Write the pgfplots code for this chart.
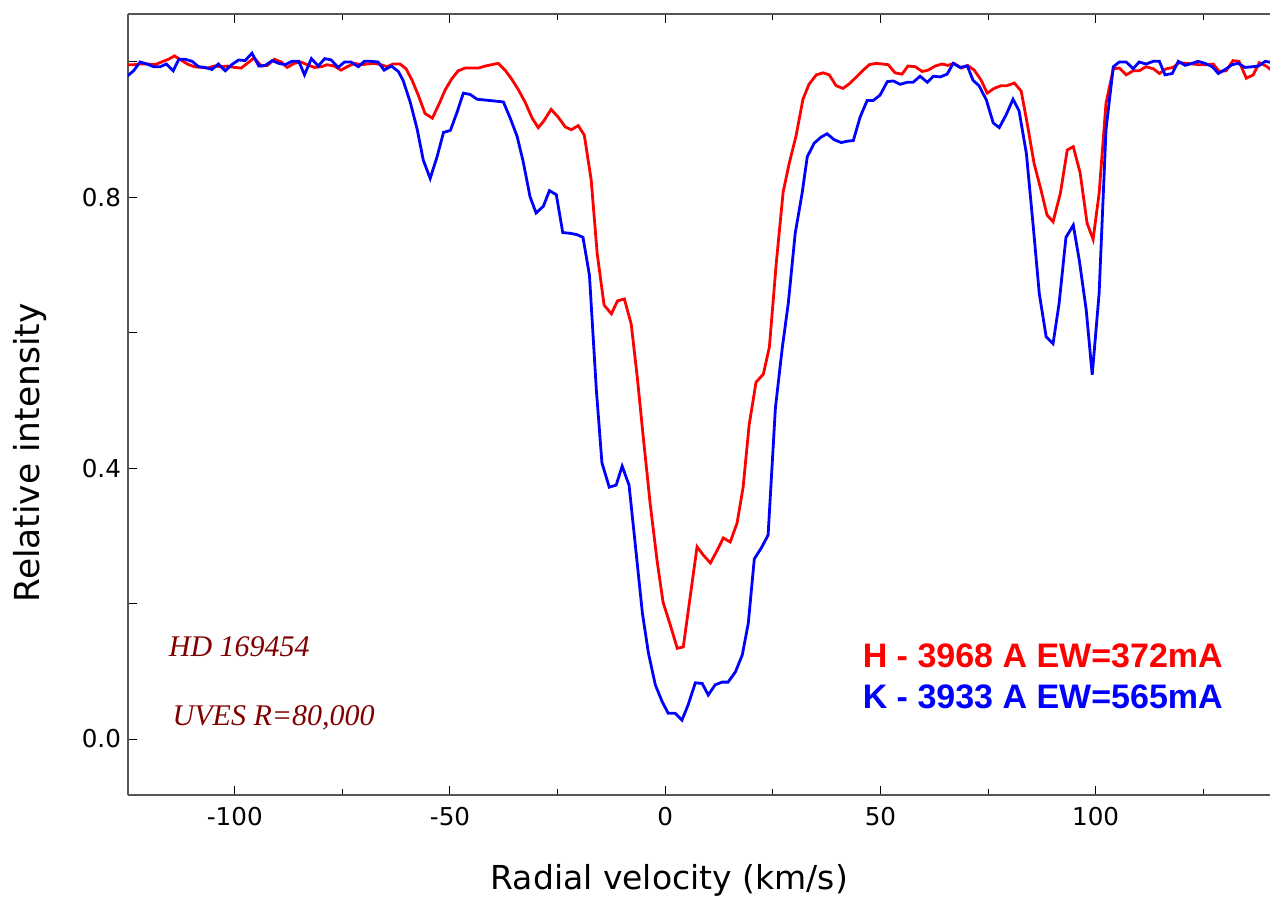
\documentclass[border=0pt]{standalone}
\usepackage{pgfplots}
\pgfplotsset{compat=1.18}
\usepackage{fontspec}
\setmainfont{DejaVu Sans}
\newfontfamily\legfont{Liberation Sans}
\newfontfamily\annfont{Liberation Serif}
\definecolor{annred}{RGB}{128,0,0}
\definecolor{axgray}{RGB}{85,85,85}

\begin{document}
\begin{tikzpicture}
\path[use as bounding box] (-64pt,-52.5pt) rectangle (571pt,397.5pt);
\begin{axis}[
  at={(0,0)}, anchor=south west,
  scale only axis,
  width=571pt, height=390.5pt,
  xmin=-124.8, xmax=140.5,
  ymin=-0.0827, ymax=1.0709,
  axis x line*=box,
  axis y line*=left,
  axis line style={draw=axgray, line width=1pt},
  tick align=inside,
  major tick length=4.5pt,
  minor tick length=3pt,
  tick style={black, line width=0.5pt},
  xtick={-100,-50,0,50,100},
  xticklabels={-100,-50,0,50,100},
  minor xtick={-125,-75,-25,25,75,125},
  ytick={0,0.2,0.4,0.6,0.8,1.0},
  yticklabels={0.0,,0.4,,0.8,},
  ticklabel style={font=\fontsize{12.3}{14}\selectfont},
  xticklabel style={yshift=-2.5pt},
  xlabel={Radial velocity (km/s)},
  ylabel={Relative intensity},
  xlabel style={font=\fontsize{16.5}{19}\selectfont, at={(axis description cs:0.474,-0.1088)}, anchor=center},
  ylabel style={font=\fontsize{17.2}{19}\selectfont, at={(axis description cs:-0.0858,0.438)}, anchor=center},
  clip=true,
]
\addplot[red, line width=1.4pt] coordinates {
(-125,0.996) (-123.5,0.996) (-122,0.997) (-120,0.997) (-118.5,0.996) (-117,1.000)
(-115.4,1.004) (-114,1.009) (-112.5,1.003) (-111,0.997) (-109.4,0.993) (-107.8,0.992)
(-106.3,0.991) (-104.8,0.994) (-103.1,0.993) (-101.7,0.994) (-100.1,0.992) (-98.5,0.991)
(-97.1,0.998) (-95.5,1.006) (-93.8,0.994) (-92.4,0.995) (-90.8,1.004) (-89.2,1.000)
(-87.8,0.992) (-86.2,0.998) (-84.6,1.000) (-83.2,0.996) (-81.5,0.992) (-79.9,0.993)
(-78.5,0.996) (-76.9,0.994) (-75.3,0.988) (-73.9,0.993) (-72.2,0.998) (-70.6,0.996)
(-69.2,0.997) (-67.6,0.998) (-66,0.996) (-64.6,0.993) (-63.2,0.997) (-61.6,0.997)
(-60.2,0.990) (-58.8,0.973) (-57.3,0.950) (-55.8,0.924) (-54.1,0.917) (-52.6,0.937)
(-51.1,0.959) (-49.6,0.975) (-48.1,0.987) (-46.5,0.991) (-45,0.991) (-43.4,0.991)
(-41.8,0.994) (-40.3,0.996) (-38.8,0.998) (-37.2,0.988) (-35.7,0.975) (-34.1,0.959)
(-32.5,0.940) (-30.9,0.917) (-29.5,0.903) (-28.3,0.912) (-26.5,0.930) (-24.8,0.918)
(-23.2,0.904) (-21.8,0.900) (-20.2,0.906) (-18.8,0.892) (-17.2,0.826) (-15.8,0.717)
(-14.2,0.641) (-12.5,0.628) (-11.1,0.647) (-9.5,0.650) (-7.9,0.613) (-6.5,0.535)
(-5.1,0.446) (-3.5,0.348) (-1.9,0.264) (-0.5,0.202) (1.2,0.168) (2.8,0.134)
(4.2,0.136) (5.8,0.210) (7.4,0.284) (8.8,0.272) (10.5,0.260) (12.1,0.279)
(13.5,0.297) (15.1,0.291) (16.7,0.319) (18.1,0.372) (19.5,0.464) (21.1,0.527)
(22.8,0.539) (24.2,0.579) (25.8,0.703) (27.4,0.808) (28.8,0.850) (30.4,0.891)
(32,0.945) (33.4,0.967) (35.1,0.981) (36.7,0.984) (38.1,0.981) (39.7,0.965)
(41.3,0.961) (42.8,0.968) (44.1,0.976) (46,0.988) (47.4,0.996) (49,0.998)
(50.5,0.997) (51.8,0.996) (53.4,0.984) (55,0.982) (56.4,0.994) (58.1,0.993)
(59.7,0.986) (61.1,0.988) (62.7,0.994) (64.3,0.997) (65.7,0.995) (67.1,0.998)
(68.8,0.991) (70.2,0.995) (71.8,0.988) (73.4,0.973) (74.8,0.954) (76.4,0.961)
(78,0.965) (79.4,0.965) (81.1,0.969) (82.7,0.957) (84.1,0.909) (85.7,0.850)
(87.3,0.811) (88.7,0.774) (90.1,0.764) (91.8,0.806) (93.4,0.870) (94.8,0.875)
(96.4,0.836) (98,0.762) (99.4,0.738) (100.8,0.806) (102.4,0.939) (104.1,0.990)
(105.5,0.991) (107.1,0.981) (108.7,0.987) (110.1,0.987) (111.7,0.993) (113.4,0.990)
(114.8,0.983) (116.4,0.990) (118,0.992) (119.4,0.999) (121,0.998) (122.6,0.997)
(124,0.996) (125.7,0.996) (127.3,0.997) (128.7,0.986) (130.3,0.987) (131.9,1.002)
(133.3,1.001) (135,0.976) (136.6,0.981) (138,0.999) (139.6,0.994) (141,0.987)
};
\addplot[blue, line width=1.4pt] coordinates {
(-125,0.979) (-123.5,0.987) (-122,1.000) (-120.4,0.997) (-118.8,0.993) (-117.3,0.993)
(-115.9,0.997) (-114.3,0.987) (-113,1.004) (-111.5,1.004) (-109.9,1.001) (-108.4,0.993)
(-106.9,0.992) (-105.3,0.989) (-103.8,0.997) (-102.2,0.987) (-100.7,0.996) (-99.1,1.003)
(-97.6,1.002) (-96,1.013) (-94.4,0.994) (-92.9,0.995) (-91.3,1.002) (-89.8,0.998)
(-88.3,0.996) (-86.7,1.001) (-85.1,1.001) (-83.8,0.981) (-82.2,1.005) (-80.6,0.994)
(-79.1,1.005) (-77.6,1.003) (-76,0.992) (-74.5,1.000) (-73,1.000) (-71.3,0.993)
(-69.9,1.001) (-68.3,1.001) (-66.7,1.000) (-65.3,0.988) (-63.6,0.994) (-62,0.986)
(-60.9,0.973) (-59.2,0.940) (-57.6,0.900) (-56.2,0.855) (-54.6,0.828) (-53,0.860)
(-51.5,0.896) (-49.9,0.899) (-48.4,0.925) (-46.9,0.954) (-45.3,0.952) (-43.7,0.945)
(-42.2,0.944) (-40.6,0.943) (-39.1,0.942) (-37.6,0.941) (-36,0.917) (-34.4,0.890)
(-33,0.853) (-31.4,0.801) (-30,0.777) (-28.3,0.787) (-26.9,0.810) (-25.3,0.804)
(-23.8,0.748) (-22.1,0.747) (-20.5,0.745) (-19.1,0.741) (-17.6,0.685) (-16,0.516)
(-14.7,0.408) (-13,0.372) (-11.4,0.375) (-10,0.403) (-8.4,0.375) (-7,0.290)
(-5.3,0.186) (-3.9,0.127) (-2.3,0.080) (-0.7,0.055) (0.7,0.038) (2.3,0.038)
(3.9,0.028) (5.3,0.050) (7,0.083) (8.6,0.082) (10,0.065) (11.6,0.080)
(13.2,0.084) (14.6,0.084) (16.3,0.099) (17.9,0.124) (19.3,0.171) (20.7,0.266)
(22.3,0.282) (23.9,0.301) (25.6,0.489) (27.2,0.578) (28.6,0.644) (30.2,0.747)
(31.8,0.806) (33,0.860) (34.6,0.880) (36.2,0.889) (37.6,0.894) (39.3,0.885)
(40.9,0.881) (42.3,0.883) (43.7,0.884) (45.3,0.919) (46.9,0.943) (48.3,0.943)
(49.9,0.951) (51.6,0.971) (53,0.972) (54.6,0.967) (56.2,0.970) (57.6,0.970)
(59.2,0.979) (60.9,0.970) (62.3,0.979) (63.9,0.978) (65.5,0.982) (66.9,0.998)
(68.5,0.992) (70.2,0.994) (71.5,0.973) (72.9,0.965) (74.6,0.944) (76.2,0.910)
(77.6,0.903) (79.2,0.922) (80.8,0.945) (82.2,0.928) (83.9,0.865) (85.5,0.757)
(86.9,0.658) (88.5,0.594) (90.1,0.584) (91.5,0.643) (93.1,0.741) (94.8,0.759)
(96.2,0.707) (97.8,0.634) (99.2,0.538) (100.8,0.658) (102.4,0.900) (104.1,0.993)
(105.5,1.000) (107.1,1.000) (108.7,0.990) (110.1,1.000) (111.7,0.997) (113.4,1.001)
(114.8,1.001) (116.1,0.981) (117.8,0.983) (119.2,1.001) (120.8,0.995) (122.4,0.998)
(123.8,1.001) (125.4,0.998) (127.1,0.993) (128.5,0.983) (130.1,0.989) (131.7,0.996)
(133.1,0.998) (134.7,0.992) (136.4,0.993) (137.8,0.994) (139.4,1.001) (141,0.999)
};
\node[anchor=west, inner sep=0pt, text=annred, font=\annfont\itshape\fontsize{15}{17}\selectfont] at (axis cs:-115.4,0.136) {HD 169454};
\node[anchor=west, inner sep=0pt, text=annred, font=\annfont\itshape\fontsize{15}{17}\selectfont] at (axis cs:-114.5,0.032) {UVES R=80,000};
\node[anchor=west, inner sep=0pt, text=red, font=\legfont\bfseries\fontsize{17}{19}\selectfont] at (axis cs:45.8,0.123) {H - 3968 A EW=372mA};
\node[anchor=west, inner sep=0pt, text=blue, font=\legfont\bfseries\fontsize{17}{19}\selectfont] at (axis cs:45.8,0.062) {K - 3933 A EW=565mA};
\end{axis}
\end{tikzpicture}
\end{document}
